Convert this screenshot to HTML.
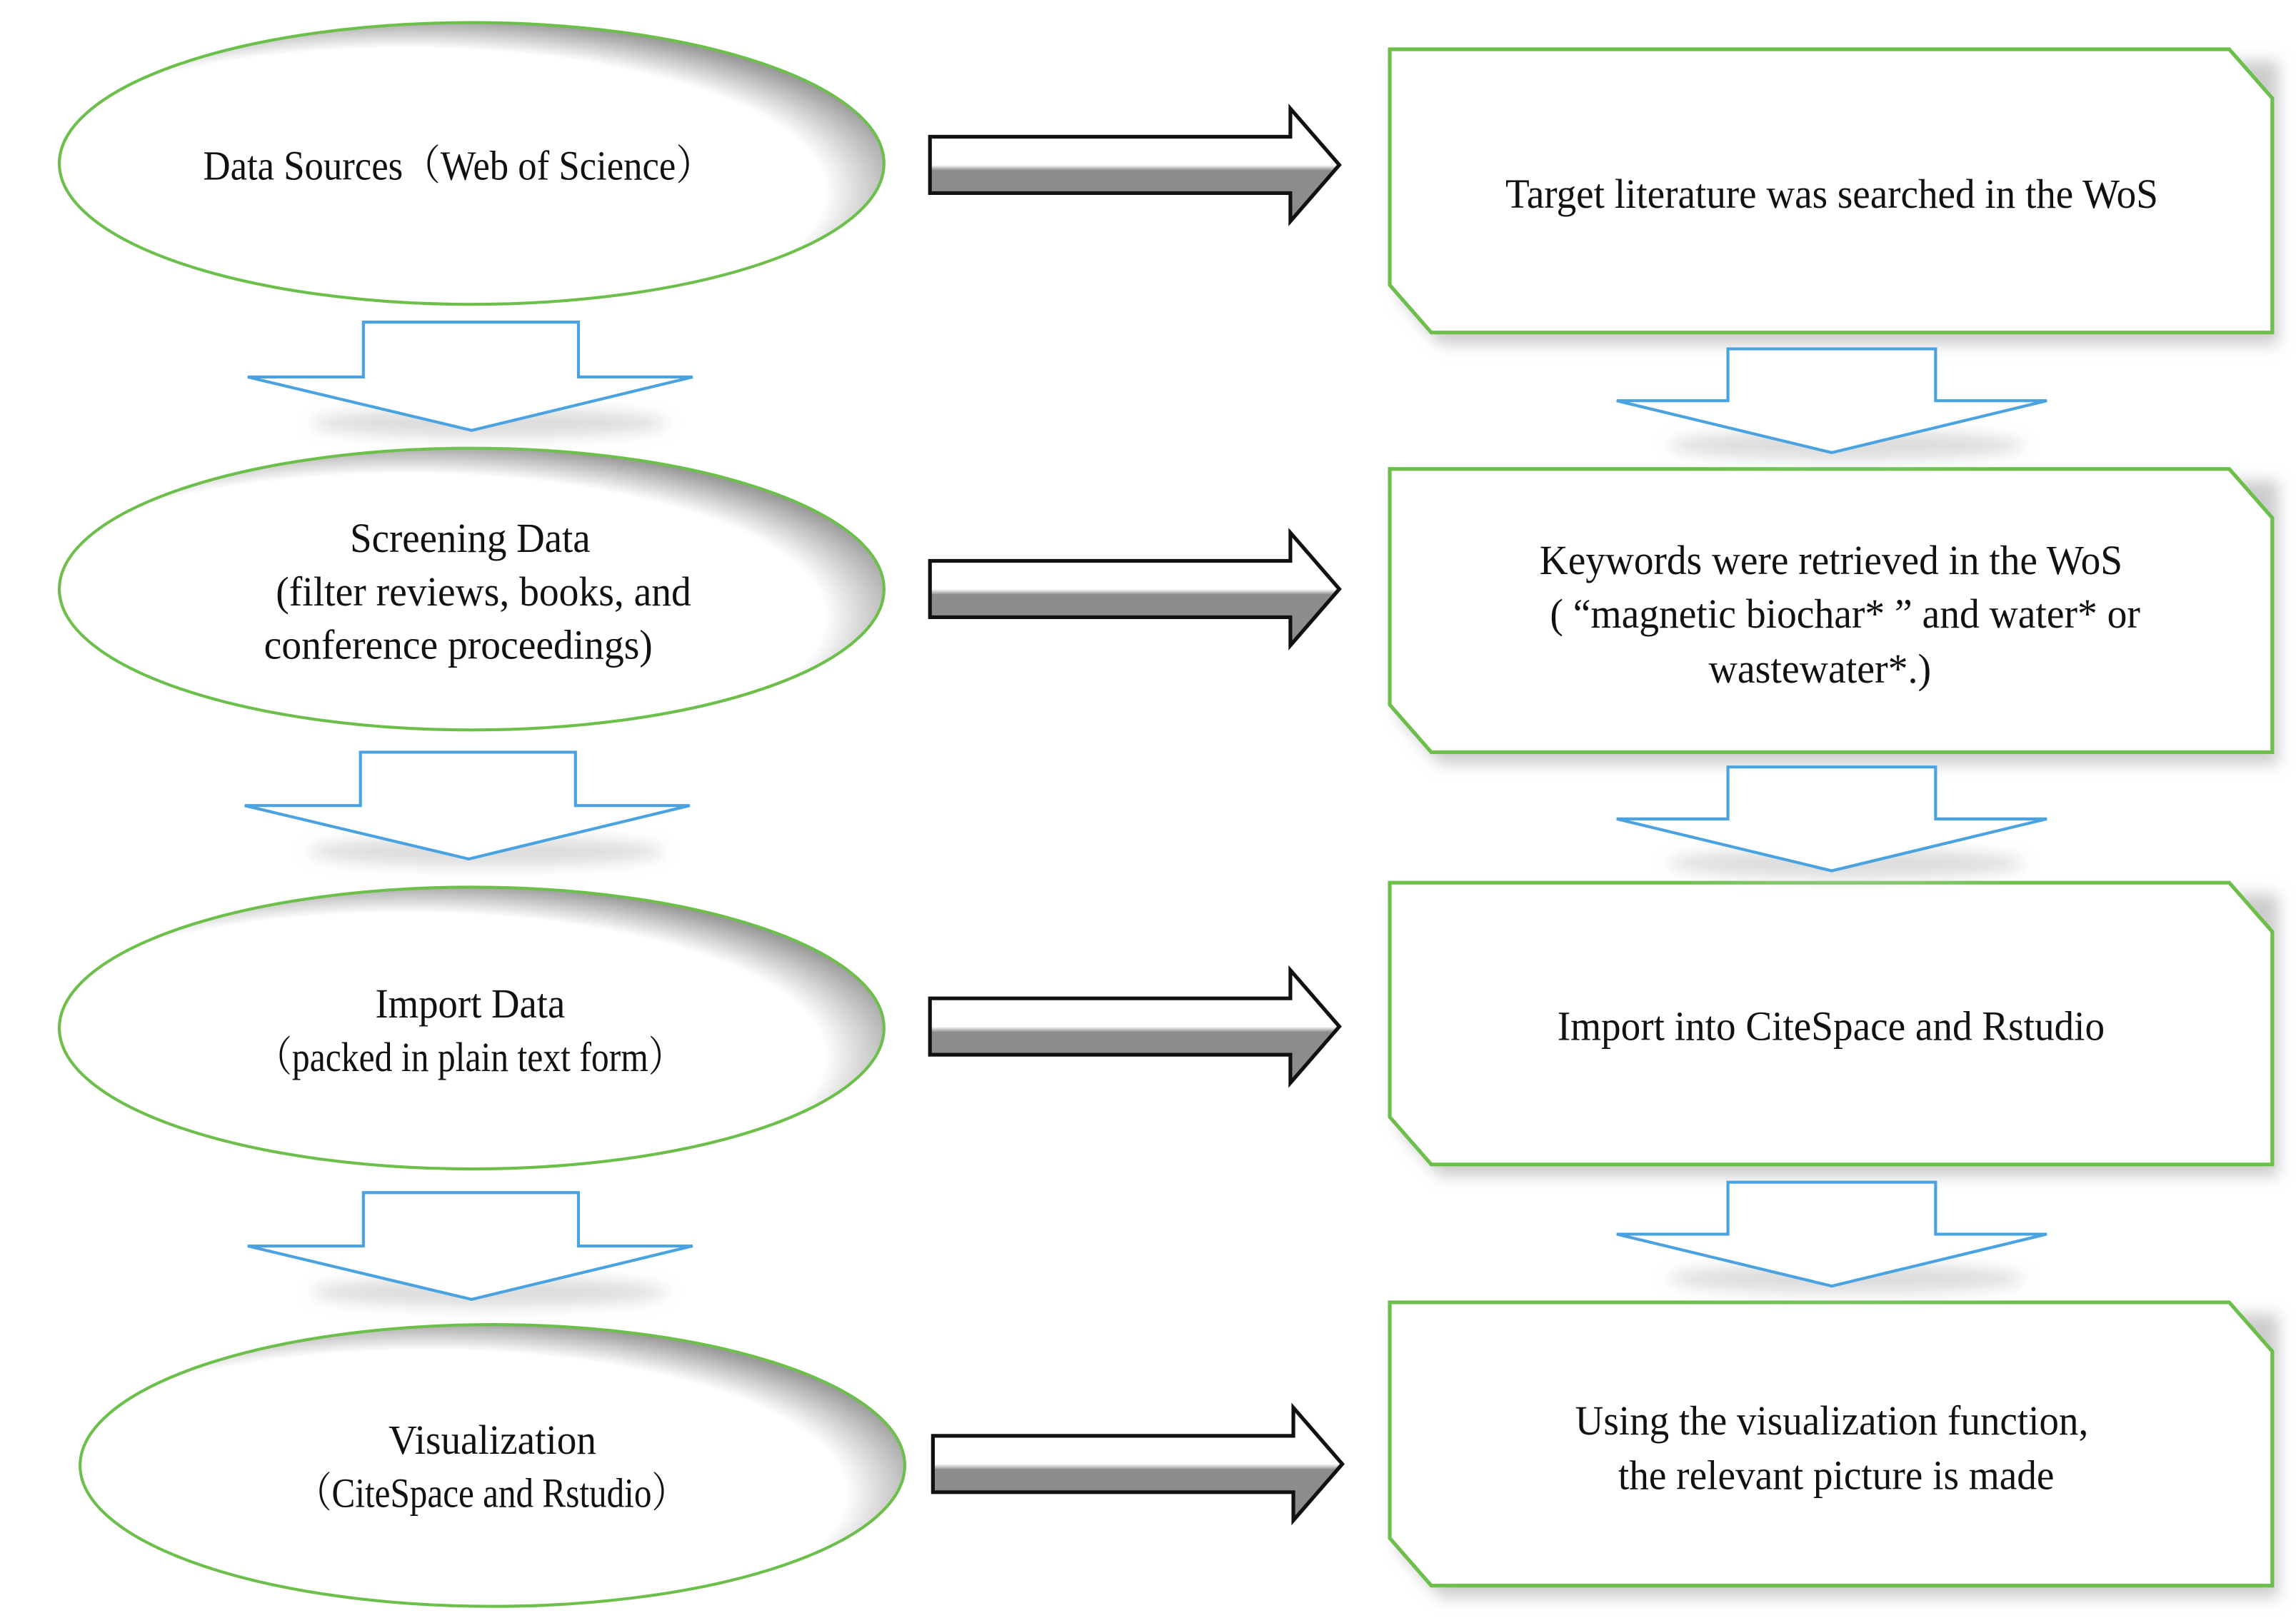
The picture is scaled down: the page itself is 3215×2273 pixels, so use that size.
<!DOCTYPE html>
<html><head><meta charset="utf-8"><style>html,body{margin:0;padding:0;background:#fff}svg{display:block}</style></head>
<body>
<svg width="3215" height="2273" viewBox="0 0 1548 1094" xmlns="http://www.w3.org/2000/svg">
<defs>
<filter id="sh" x="-10%" y="-10%" width="120%" height="130%"><feGaussianBlur stdDeviation="5"/></filter>
<radialGradient id="eg" cx="0.42" cy="0.6" r="0.62">
<stop offset="0.82" stop-color="#fff"/><stop offset="1" stop-color="#9a9a9a"/></radialGradient>
<linearGradient id="ag" x1="0" y1="0" x2="0" y2="1">
<stop offset="0" stop-color="#fff"/><stop offset="0.5" stop-color="#fff"/><stop offset="0.55" stop-color="#8c8c8c"/><stop offset="1" stop-color="#8c8c8c"/></linearGradient>
</defs>
<rect width="1548" height="1094" fill="#fff"/>

<g id="ells" stroke="#6cbf4a" stroke-width="2">
<ellipse cx="318" cy="110" rx="278" ry="95" fill="url(#eg)"/>
<ellipse cx="318" cy="397" rx="278" ry="95" fill="url(#eg)"/>
<ellipse cx="318" cy="693" rx="278" ry="95" fill="url(#eg)"/>
<ellipse cx="332" cy="988" rx="278" ry="95" fill="url(#eg)"/>
</g>

<g fill="#ccc" filter="url(#sh)">
<path d="M943,41 H1536 V232 H971 L943,200Z"/>
<path d="M943,324 H1536 V515 H971 L943,483Z"/>
<path d="M943,603 H1536 V793 H971 L943,761Z"/>
<path d="M943,886 H1536 V1077 H971 L943,1045Z"/>
</g>
<g fill="#fff" stroke="#6cbf4a" stroke-width="2.5">
<path d="M937,33 H1503 L1532,66 V224 H965 L937,192Z"/>
<path d="M937,316 H1503 L1532,349 V507 H965 L937,475Z"/>
<path d="M937,595 H1503 L1532,628 V785 H965 L937,753Z"/>
<path d="M937,878 H1503 L1532,911 V1069 H965 L937,1037Z"/>
</g>

<g fill="#ddd" filter="url(#sh)">
<ellipse cx="330" cy="285" rx="120" ry="10"/>
<ellipse cx="328" cy="574" rx="120" ry="10"/>
<ellipse cx="330" cy="871" rx="120" ry="10"/>
<ellipse cx="1245" cy="300" rx="120" ry="10"/>
<ellipse cx="1245" cy="582" rx="120" ry="10"/>
<ellipse cx="1245" cy="862" rx="120" ry="10"/>
</g>
<g fill="#fff" stroke="#4aa3e0" stroke-width="2">
<path d="M245,217 H390 V254 H467 L318,290 L167,254 H245Z"/>
<path d="M243,507 H388 V543 H465 L316,579 L165,543 H243Z"/>
<path d="M245,804 H390 V840 H467 L318,876 L167,840 H245Z"/>
<path d="M1165,235 H1305 V270 H1380 L1235,305 L1090,270 H1165Z"/>
<path d="M1165,517 H1305 V552 H1380 L1235,587 L1090,552 H1165Z"/>
<path d="M1165,797 H1305 V832 H1380 L1235,867 L1090,832 H1165Z"/>
</g>

<g fill="url(#ag)" stroke="#111" stroke-width="2.5" stroke-linejoin="miter">
<path d="M627,92 H870 V73 L903,111 L870,149 V130 H627Z"/>
<path d="M627,378 H870 V359 L903,397 L870,435 V416 H627Z"/>
<path d="M627,673 H870 V654 L903,692 L870,730 V711 H627Z"/>
<path d="M629,968 H872 V949 L905,987 L872,1025 V1006 H629Z"/>
</g>

<g font-family="'Liberation Serif','Noto Serif CJK SC',serif" font-size="28" fill="#111" lengthAdjust="spacingAndGlyphs">
<text x="137" y="121" textLength="344" lengthAdjust="spacingAndGlyphs">Data Sources（Web of Science）</text>
<text x="236" y="372" textLength="162" lengthAdjust="spacingAndGlyphs">Screening Data</text>
<text x="186" y="408" textLength="280" lengthAdjust="spacingAndGlyphs">(filter reviews, books, and</text>
<text x="178" y="444" textLength="262" lengthAdjust="spacingAndGlyphs">conference proceedings)</text>
<text x="253" y="686" textLength="128" lengthAdjust="spacingAndGlyphs">Import Data</text>
<text x="173" y="722" textLength="288" lengthAdjust="spacingAndGlyphs">（packed in plain text form）</text>
<text x="262" y="980" textLength="140" lengthAdjust="spacingAndGlyphs">Visualization</text>
<text x="200" y="1016" textLength="263" lengthAdjust="spacingAndGlyphs">（CiteSpace and Rstudio）</text>
<text x="1015" y="140" textLength="440" lengthAdjust="spacingAndGlyphs">Target literature was searched in the WoS</text>
<text x="1038" y="387" textLength="393" lengthAdjust="spacingAndGlyphs">Keywords were retrieved in the WoS</text>
<text x="1045" y="423" textLength="398" lengthAdjust="spacingAndGlyphs">( “magnetic biochar* ” and water*  or</text>
<text x="1152" y="460" textLength="150" lengthAdjust="spacingAndGlyphs">wastewater*.)</text>
<text x="1050" y="701" textLength="369" lengthAdjust="spacingAndGlyphs">Import into CiteSpace and Rstudio</text>
<text x="1062" y="967" textLength="346" lengthAdjust="spacingAndGlyphs">Using the visualization function,</text>
<text x="1091" y="1004" textLength="294" lengthAdjust="spacingAndGlyphs">the relevant picture is made</text>
</g>
</svg>
</body></html>
